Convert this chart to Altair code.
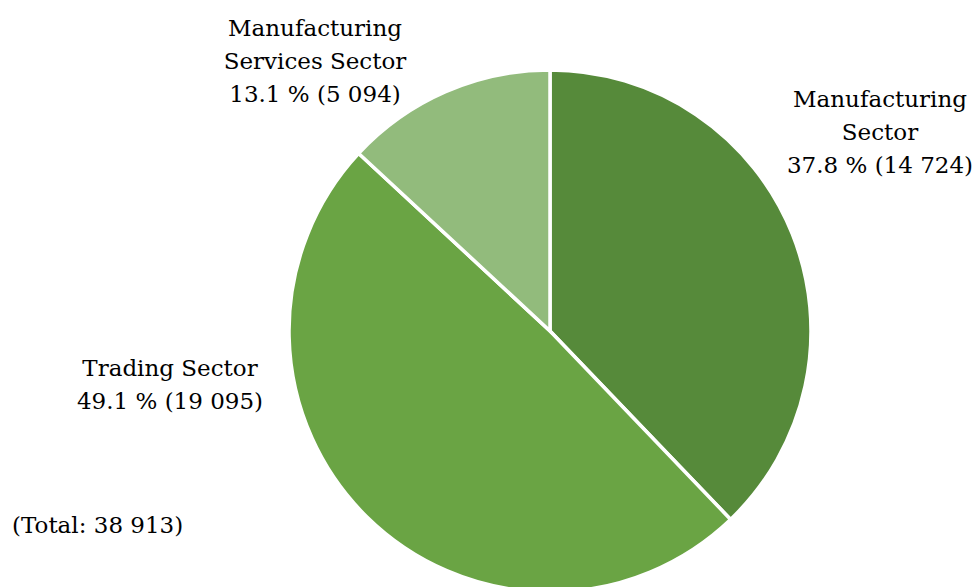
import altair as alt
import pandas as pd

sectors = ["Manufacturing Sector", "Trading Sector", "Manufacturing Services Sector"]
counts = [14724, 19095, 5094]
shares = [37.8, 49.1, 13.1]
colors = ["#568A3A", "#6AA444", "#92BB7C"]
label_lines = [
    "Manufacturing\nSector\n37.8 % (14 724)",
    "Trading Sector\n49.1 % (19 095)",
    "Manufacturing\nServices Sector\n13.1 % (5 094)",
]
total_text = "(Total: 38 913)"

# label anchor positions (layout only)
label_x = [880, 170, 315]
label_y = [107, 376, 36]

FONT = "DejaVu Serif"

df = pd.DataFrame({"sector": sectors, "count": counts, "order": [0, 1, 2]})
lab = pd.DataFrame({"text": label_lines, "lx": label_x, "ly": label_y})

pie = alt.Chart(df).mark_arc(radius=261, stroke="white", strokeWidth=3.5).encode(
    theta=alt.Theta("count:Q", stack=True),
    order=alt.Order("order:Q"),
    color=alt.Color("sector:N", scale=alt.Scale(domain=sectors, range=colors), legend=None),
    x=alt.value(550),
    y=alt.value(331),
)

labels = alt.Chart(lab).mark_text(
    font=FONT, fontSize=23, lineBreak="\n", lineHeight=33,
    align="center", baseline="alphabetic", color="black",
).encode(
    x=alt.X("lx:Q", scale=None),
    y=alt.Y("ly:Q", scale=None),
    text="text:N",
)

total = alt.Chart(pd.DataFrame({"t": [total_text]})).mark_text(
    font=FONT, fontSize=23, align="left", baseline="alphabetic", color="black",
).encode(x=alt.value(12), y=alt.value(533), text="t:N")

chart = alt.layer(pie, labels, total).properties(
    width=978, height=587, padding=0, autosize=alt.AutoSizeParams(type="none")
).configure(font=FONT).configure_view(stroke=None)

chart.save("out.html", embed_options={"renderer": "svg", "actions": False})
